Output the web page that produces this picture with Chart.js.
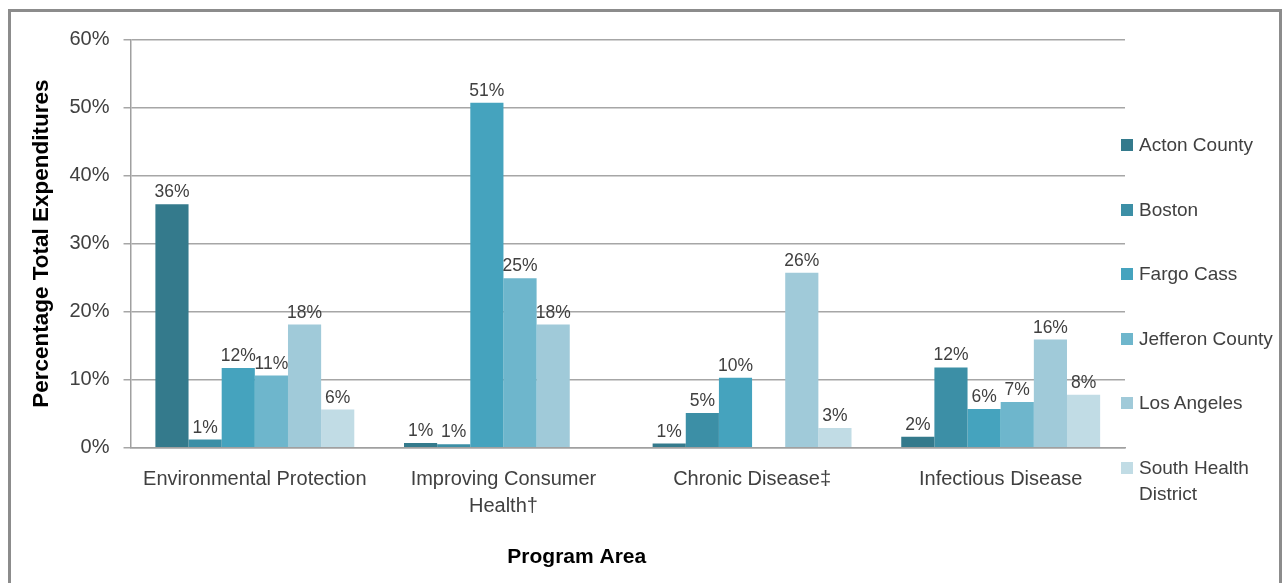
<!DOCTYPE html>
<html>
<head>
<meta charset="utf-8">
<script src="https://cdn.jsdelivr.net/npm/chart.js@4.4.1/dist/chart.umd.min.js"></script>
<style>
  html, body { margin:0; padding:0; background:#fff; overflow:hidden; }
  .frame { position:absolute; left:8px; top:9px; width:1268px; height:600px; border:3px solid #8c8c8c; }
  .chart-box { position:absolute; left:0; top:0; width:1268px; height:571px; }
  .legend { position:absolute; left:1121px; top:132px; font-family:"Liberation Sans",Arial,sans-serif;
    font-size:19px; line-height:26px; color:#404040; }
  .legend-item { display:flex; align-items:flex-start; margin-bottom:38.6px; }
  .legend-swatch { width:12px; height:12px; margin-top:7px; margin-right:6px; flex:none; }
  .legend-text { width:142px; }
</style>
</head>
<body>
<div class="frame">
  <div class="chart-box"><canvas id="chart-expenditures"></canvas></div>
</div>
<div class="legend" id="legend-container"></div>
<script>
const categories = ['Environmental Protection', ['Improving Consumer', 'Health†'], 'Chronic Disease‡', 'Infectious Disease'];
const seriesNames = ['Acton County', 'Boston', 'Fargo Cass', 'Jefferon County', 'Los Angeles', 'South Health District'];
const seriesColors = ['#347A8C', '#3C8FA6', '#45A3BE', '#6EB6CC', '#A0CAD9', '#C1DCE5'];

const actonCounty    = [35.8, 0.7, 0.6, 1.6];
const boston         = [1.2, 0.5, 5.1, 11.8];
const fargoCass      = [11.7, 50.7, 10.3, 5.7];
const jefferonCounty = [10.6, 24.9, null, 6.7];
const losAngeles     = [18.1, 18.1, 25.7, 15.9];
const southHealth    = [5.6, null, 2.9, 7.8];

const yTicks = [0, 10, 20, 30, 40, 50, 60];

const seriesValues = [actonCounty, boston, fargoCass, jefferonCounty, losAngeles, southHealth];
const FONT = '"Liberation Sans", Arial, sans-serif';

// percent labels on top of each bar
const barLabels = {
  id: 'barLabels',
  afterDatasetsDraw(chart) {
    const ctx = chart.ctx;
    ctx.save();
    ctx.font = '17.5px ' + FONT;
    ctx.fillStyle = '#404040';
    ctx.textAlign = 'center';
    ctx.textBaseline = 'bottom';
    chart.data.datasets.forEach((ds, i) => {
      chart.getDatasetMeta(i).data.forEach((bar, j) => {
        const v = ds.data[j];
        if (v == null) return;
        ctx.fillText(Math.round(v) + '%', bar.x, bar.y - 3);
      });
    });
    ctx.restore();
  }
};

const chart = new Chart(document.getElementById('chart-expenditures'), {
  type: 'bar',
  data: {
    labels: categories,
    datasets: seriesNames.map((name, i) => ({
      label: name,
      data: seriesValues[i],
      backgroundColor: seriesColors[i],
      borderWidth: 0,
      categoryPercentage: 0.8,
      barPercentage: 1
    }))
  },
  options: {
    responsive: true, maintainAspectRatio: false,
    animation: false,
    layout: { padding: { left: 17.5, right: 154, top: 27.5, bottom: 13.5 } },
    plugins: {
      legend: { display: false },
      tooltip: { enabled: false },
      title: {
        display: true, position: 'bottom', text: 'Program Area', color: '#000',
        font: { family: FONT, size: 21, weight: 'bold' },
        padding: { top: 14.6, bottom: 0 }
      }
    },
    scales: {
      x: {
        grid: { display: false },
        border: { display: true, color: '#a0a0a0', width: 1.5 },
        ticks: { color: '#404040', padding: 10, maxRotation: 0, autoSkip: false,
                 font: { family: FONT, size: 20, lineHeight: 1.35 } }
      },
      y: {
        min: 0, max: 60,
        afterBuildTicks: s => { s.ticks = yTicks.map(v => ({ value: v })); },
        grid: { color: '#a6a6a6', lineWidth: 1.5, tickLength: 7 },
        border: { display: true, color: '#a0a0a0', width: 1.5 },
        ticks: { color: '#404040', padding: 14, callback: v => v + '%',
                 font: { family: FONT, size: 20 } },
        title: {
          display: true, text: 'Percentage Total Expenditures', color: '#000',
          font: { family: FONT, size: 22.5, weight: 'bold' },
          padding: { top: 0, bottom: 0 }
        }
      }
    }
  },
  plugins: [barLabels]
});

// legend built from the same series arrays
document.getElementById('legend-container').innerHTML = seriesNames.map((name, i) => `
  <div class="legend-item">
    <div class="legend-swatch" style="background:${seriesColors[i]}"></div>
    <div class="legend-text">${name}</div>
  </div>`).join('');
</script>
</body>
</html>
